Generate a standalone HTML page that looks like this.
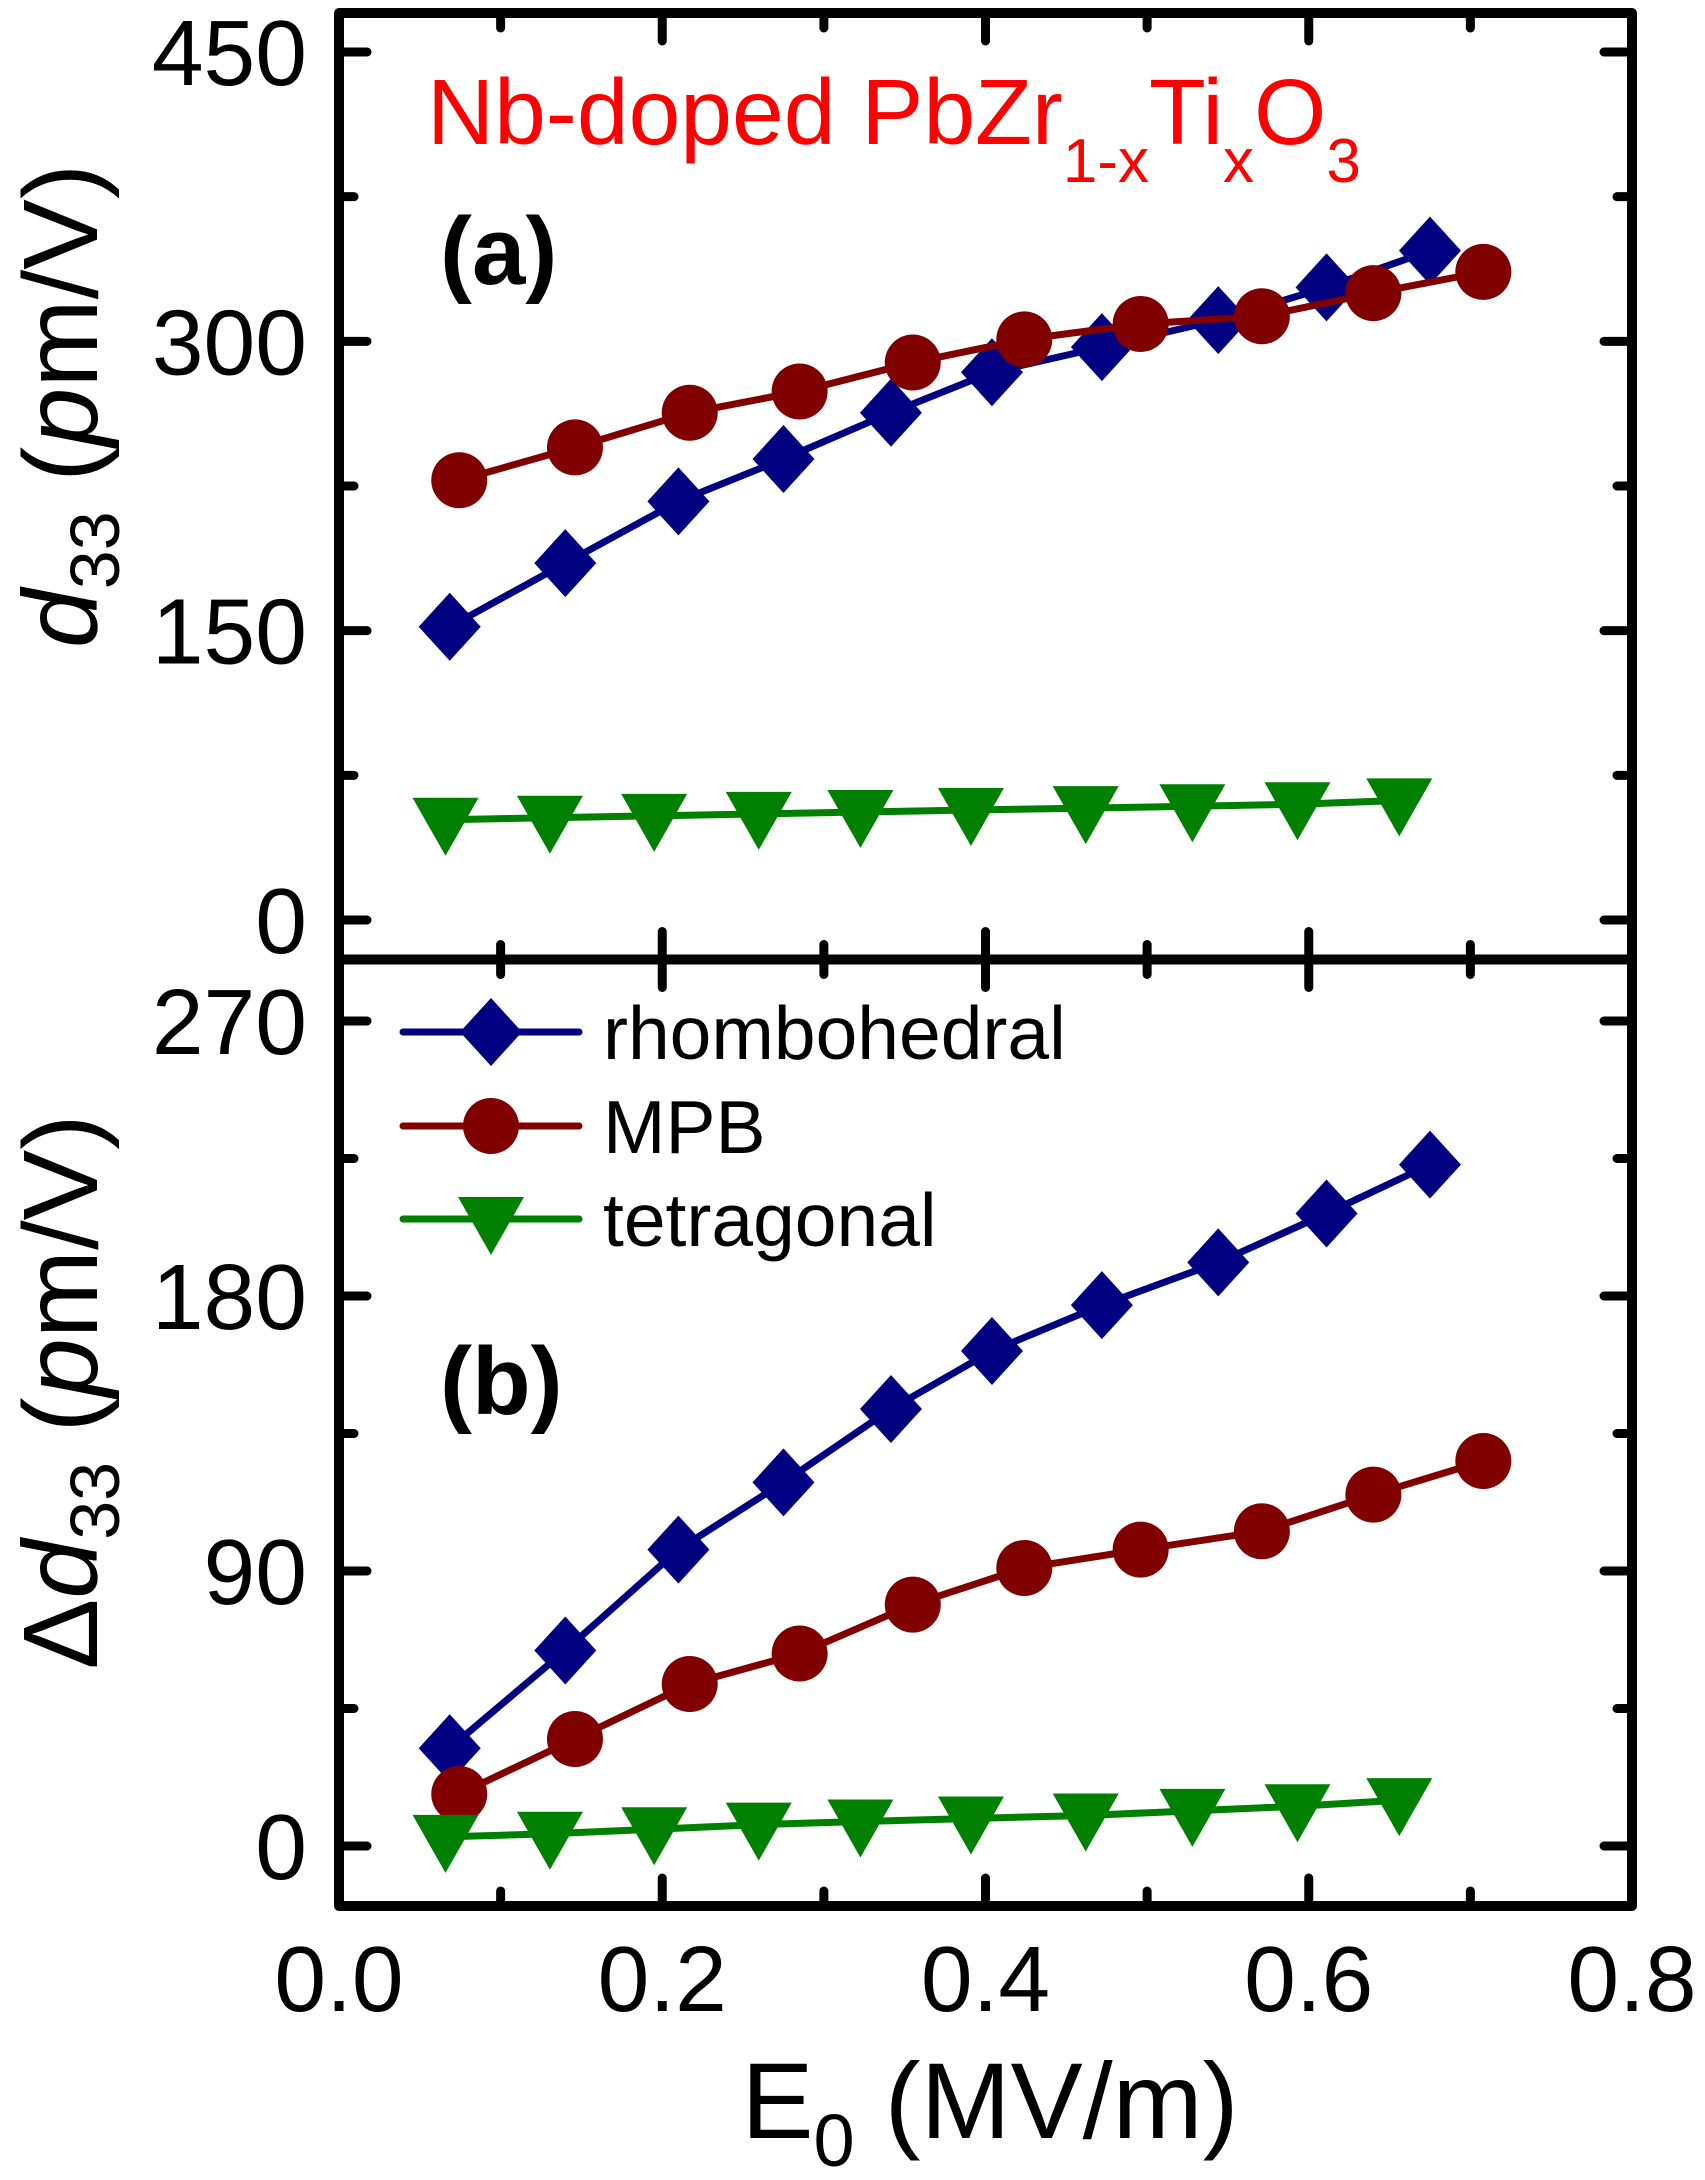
<!DOCTYPE html>
<html><head><meta charset="utf-8"><style>
html,body{margin:0;padding:0;background:#fff;}
svg{display:block;font-family:"Liberation Sans",Arial,sans-serif;}
</style></head><body>
<svg id="chart" width="1705" height="2180" viewBox="0 0 1705 2180" xmlns="http://www.w3.org/2000/svg">
<g id="marks"></g>
<g id="axes"></g>
<text x="427" y="144" fill="#ff0000" font-size="93">Nb-doped PbZr<tspan font-size="62" dy="38">1-x</tspan><tspan dy="-38">Ti</tspan><tspan font-size="62" dy="38">x</tspan><tspan dy="-38">O</tspan><tspan font-size="62" dy="38">3</tspan></text>
<text x="440" y="284" font-size="96" font-weight="bold">(<tspan>a</tspan>)</text>
<text x="440" y="1414" font-size="96" font-weight="bold">(b)</text>
<text transform="translate(97,406) rotate(-90)" text-anchor="middle" font-size="106"><tspan font-style="italic">d</tspan><tspan font-size="70" dy="22">33</tspan><tspan dy="-22"> (</tspan><tspan font-style="italic">p</tspan>m/V)</text>
<text transform="translate(97,1392) rotate(-90)" text-anchor="middle" font-size="106">Δ<tspan font-style="italic">d</tspan><tspan font-size="70" dy="22">33</tspan><tspan dy="-22"> (</tspan><tspan font-style="italic">p</tspan>m/V)</text>
<text x="990" y="2138" text-anchor="middle" font-size="108">E<tspan font-size="74" dy="28">0</tspan><tspan dy="-28"> (MV/m)</tspan></text>
<g id="legend"></g>
</svg>
<script>
const xR = [0.0685,0.140,0.210,0.275,0.3415,0.404,0.472,0.544,0.611,0.675];
const xM = [0.0744,0.146,0.217,0.285,0.355,0.424,0.496,0.571,0.640,0.708];
const xT = [0.0659,0.1305,0.195,0.2597,0.3226,0.391,0.462,0.528,0.593,0.656];
const aR = [152,185,217,239,263,284,297,311,328,347];
const aM = [228,245,263,274,289,301,309,313,325,336];
const aT = [52,53,54,55,56,57,58,59,60,62];
const bR = [32,64,97,119,143,162,177,191,207,223];
const bM = [17,35,53,63,79,91,97,103,115,126];
const bT = [3,4,5.5,7,8,9,10,11.5,13,15];
const xTicks = ["0.0","0.2","0.4","0.6","0.8"];
const aTicks = ["0","150","300","450"];
const bTicks = ["0","90","180","270"];

const NS="http://www.w3.org/2000/svg";
const L=339,R=1632,T=13,MID=959.5,B=1906;
const sx=v=>L+(v/0.8)*(R-L);
const sya=v=>920-(v/450)*(920-52);
const syb=v=>1846-(v/270)*(1846-1021);
const marks=document.getElementById('marks'),axes=document.getElementById('axes'),legend=document.getElementById('legend');
function mk(tag,attrs,parent){const e=document.createElementNS(NS,tag);for(const k in attrs)e.setAttribute(k,attrs[k]);parent.appendChild(e);return e;}
function marker(type,cx,cy,color,parent){
  let e;
  if(type==='d'){e=mk('polygon',{points:`${cx},${cy-34} ${cx+31},${cy} ${cx},${cy+34} ${cx-31},${cy}`,fill:color},parent);}
  else if(type==='c'){e=mk('circle',{cx:cx,cy:cy,r:28,fill:color},parent);}
  else {e=mk('polygon',{points:`${cx-33},${cy-22} ${cx+33},${cy-22} ${cx},${cy+36}`,fill:color},parent);}
  return e;
}
const series=[
 {name:'rhombohedral',xs:xR,ys:aR,sy:sya,t:'d',c:'#000080',p:'a'},
 {name:'mpb',xs:xM,ys:aM,sy:sya,t:'c',c:'#800000',p:'a'},
 {name:'tetragonal',xs:xT,ys:aT,sy:sya,t:'t',c:'#008000',p:'a'},
 {name:'rhombohedral',xs:xR,ys:bR,sy:syb,t:'d',c:'#000080',p:'b'},
 {name:'mpb',xs:xM,ys:bM,sy:syb,t:'c',c:'#800000',p:'b'},
 {name:'tetragonal',xs:xT,ys:bT,sy:syb,t:'t',c:'#008000',p:'b'}
];
series.forEach(s=>{
  const pts=s.xs.map((x,i)=>sx(x)+','+s.sy(s.ys[i])).join(' ');
  const ln=mk('polyline',{points:pts,fill:'none',stroke:s.c,'stroke-width':7,'stroke-linejoin':'round'},marks);
  
  
  s.xs.forEach((x,i)=>{
    const m=marker(s.t,sx(x),s.sy(s.ys[i]),s.c,marks);
    
    
  });
});
[[L,T,R,MID],[L,MID,R,B]].forEach((r,i)=>{
  const f=mk('rect',{x:r[0],y:r[1],width:r[2]-r[0],height:r[3]-r[1],fill:'none',stroke:'#000','stroke-width':10,'stroke-linejoin':'round'},axes);
  
  
});
function tick(x1,y1,x2,y2){mk('line',{x1:x1,y1:y1,x2:x2,y2:y2,stroke:'#000','stroke-width':9,'stroke-linecap':'round'},axes);}
for(let k=1;k<8;k++){
  const x=sx(k*0.1),len=(k%2===0)?28:15;
  [[B,-1],[MID,1],[MID,-1],[T,1]].forEach(([y,d])=>tick(x,y,x,y+d*len));
}
xTicks.forEach(t=>{
  const e=mk('text',{x:sx(parseFloat(t)),y:2011,'text-anchor':'middle','font-size':93},axes);e.textContent=t;
  
  
});
for(let k=0;k<=6;k++){const v=k*75,y=sya(v),len=k%2===0?28:15;tick(L,y,L+len,y);tick(R,y,R-len,y);}
for(let k=0;k<=6;k++){const v=k*45,y=syb(v),len=k%2===0?28:15;tick(L,y,L+len,y);tick(R,y,R-len,y);}
aTicks.forEach(t=>{const e=mk('text',{x:307,y:sya(+t)+33,'text-anchor':'end','font-size':93},axes);e.textContent=t;
  
  });
bTicks.forEach(t=>{const e=mk('text',{x:307,y:syb(+t)+33,'text-anchor':'end','font-size':93},axes);e.textContent=t;
  
  });
[['rhombohedral','d','#000080',1032],['MPB','c','#800000',1126],['tetragonal','t','#008000',1219]].forEach(([n,t,c,y])=>{
  const g=mk('g',{},legend);
  
  
  mk('line',{x1:403,y1:y,x2:579,y2:y,stroke:c,'stroke-width':7,'stroke-linecap':'round'},g);
  marker(t,491,y,c,g);
  const e=mk('text',{x:603,y:y+27,'font-size':75},g);e.textContent=n;
});
</script>
</body></html>
